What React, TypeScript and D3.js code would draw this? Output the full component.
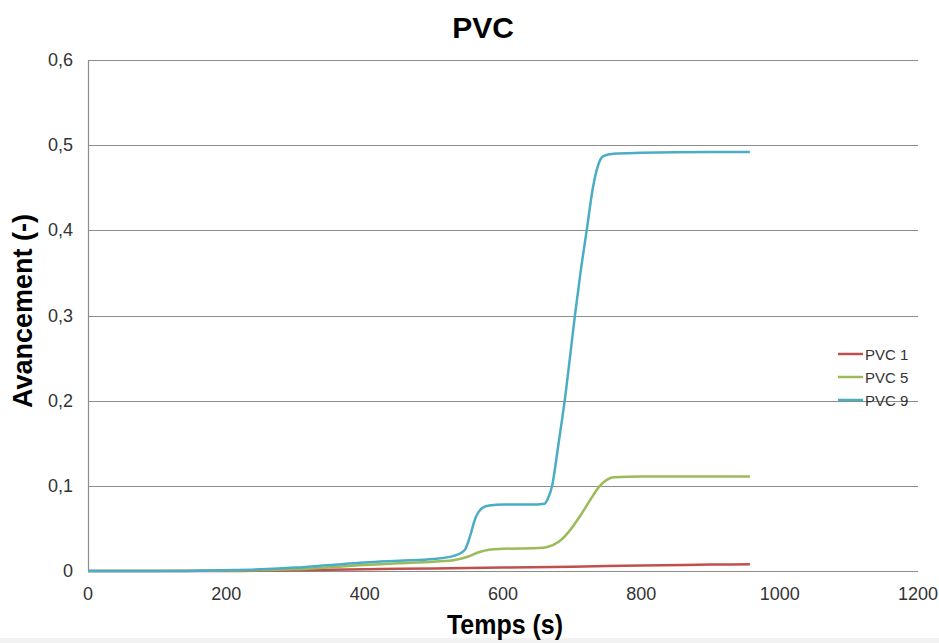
import React, { useEffect, useRef } from 'react';
import * as d3 from 'd3';

const xTicks = [0, 200, 400, 600, 800, 1000, 1200];
const yTicks = [0, 0.1, 0.2, 0.3, 0.4, 0.5, 0.6];

const pvc1Time = [0, 100, 200, 300, 400, 500, 600, 700, 800, 900, 957];
const pvc1Value = [0, 0, 0, 0.001, 0.002, 0.003, 0.004, 0.005, 0.0065, 0.0075, 0.008];

const pvc5Time = [0, 100, 200, 300, 400, 450, 500, 530, 550, 565, 580, 600, 650, 663, 680, 695, 711, 725, 740, 750, 760, 800, 900, 957];
const pvc5Value = [0, 0, 0.0005, 0.002, 0.007, 0.009, 0.011, 0.013, 0.017, 0.022, 0.025, 0.026, 0.027, 0.028, 0.034, 0.046, 0.064, 0.082, 0.1, 0.107, 0.11, 0.111, 0.111, 0.111];

const pvc9Time = [0, 100, 200, 250, 300, 350, 400, 450, 500, 530, 545, 552, 560, 570, 580, 600, 640, 660, 665, 671, 680, 690, 697, 704, 712, 721, 730, 737, 745, 760, 800, 900, 957];
const pvc9Value = [0, 0, 0.001, 0.002, 0.004, 0.007, 0.01, 0.012, 0.014, 0.018, 0.025, 0.04, 0.062, 0.074, 0.077, 0.078, 0.078, 0.079, 0.085, 0.1, 0.148, 0.205, 0.252, 0.3, 0.35, 0.4, 0.45, 0.475, 0.487, 0.49, 0.491, 0.492, 0.492];

const seriesNames = ['PVC 1', 'PVC 5', 'PVC 9'];
const seriesColors = ['#C0504D', '#9BBB59', '#4BACC6'];

const App = () => {
  const svgRef = useRef<SVGSVGElement>(null);

  useEffect(() => {
    const svg = d3.select(svgRef.current);
    svg.selectAll('*').remove();
    const font = '"Liberation Sans", Arial, sans-serif';

    const x = d3.scaleLinear().domain([0, 1200]).range([88, 918]);
    const y = d3.scaleLinear().domain([0, 0.6]).range([571, 60]);

    svg.append('rect').attr('width', 939).attr('height', 643).attr('fill', '#fff');
    svg.append('rect').attr('x', 0).attr('y', 638).attr('width', 939).attr('height', 5).attr('fill', '#f2f2f2');

    // grid
    svg.append('g')
      .selectAll('line')
      .data(yTicks)
      .enter()
      .append('line')
      .attr('x1', 88)
      .attr('x2', 918)
      .attr('y1', (d) => Math.round(y(d)) + 0.5)
      .attr('y2', (d) => Math.round(y(d)) + 0.5)
      .attr('stroke', '#8c8c8c')
      .attr('stroke-width', 1.2);

    svg.append('line')
      .attr('x1', 88.5).attr('x2', 88.5)
      .attr('y1', y(0.6)).attr('y2', y(0))
      .attr('stroke', '#8c8c8c').attr('stroke-width', 1.2);

    // tick labels
    svg.append('g')
      .selectAll('text')
      .data(yTicks)
      .enter()
      .append('text')
      .attr('x', 73)
      .attr('y', (d) => y(d) + 6)
      .attr('text-anchor', 'end')
      .attr('font-family', font)
      .attr('font-size', 18)
      .attr('fill', '#333')
      .text((d) => (d === 0 ? '0' : d3.format('.1f')(d).replace('.', ',')));

    svg.append('g')
      .selectAll('text')
      .data(xTicks)
      .enter()
      .append('text')
      .attr('x', (d) => x(d))
      .attr('y', 600)
      .attr('text-anchor', 'middle')
      .attr('font-family', font)
      .attr('font-size', 18)
      .attr('fill', '#333')
      .text((d) => d);

    // lines
    const data = [
      pvc1Time.map((t, i) => [t, pvc1Value[i]]),
      pvc5Time.map((t, i) => [t, pvc5Value[i]]),
      pvc9Time.map((t, i) => [t, pvc9Value[i]]),
    ];
    const line = d3.line<number[]>()
      .x((d) => x(d[0]))
      .y((d) => y(d[1]))
      .curve(d3.curveMonotoneX);

    svg.append('g')
      .selectAll('path')
      .data(data)
      .enter()
      .append('path')
      .attr('d', line)
      .attr('fill', 'none')
      .attr('stroke', (d, i) => seriesColors[i])
      .attr('stroke-width', 2.5);

    // legend
    const legend = svg.append('g')
      .selectAll('g')
      .data(seriesNames)
      .enter()
      .append('g')
      .attr('transform', (d, i) => `translate(838, ${354 + i * 23})`);
    legend.append('line')
      .attr('x1', 0).attr('x2', 25)
      .attr('stroke', (d, i) => seriesColors[i])
      .attr('stroke-width', 2.5);
    legend.append('text')
      .attr('x', 27)
      .attr('y', 5.5)
      .attr('font-family', font)
      .attr('font-size', 15)
      .attr('fill', '#333')
      .text((d) => d);

    // titles
    svg.append('text')
      .attr('x', 483).attr('y', 38)
      .attr('text-anchor', 'middle')
      .attr('font-family', font)
      .attr('font-weight', 'bold')
      .attr('font-size', 30)
      .text('PVC');

    svg.append('text')
      .attr('transform', 'translate(505, 634) scale(1, 1.12)')
      .attr('text-anchor', 'middle')
      .attr('font-family', font)
      .attr('font-weight', 'bold')
      .attr('font-size', 25)
      .text('Temps (s)');

    svg.append('text')
      .attr('transform', 'translate(32, 311) rotate(-90)')
      .attr('text-anchor', 'middle')
      .attr('font-family', font)
      .attr('font-weight', 'bold')
      .attr('font-size', 27)
      .text('Avancement (-)');
  }, []);

  return (
    <svg
      ref={svgRef}
      width={939}
      height={643}
      style={{ position: 'absolute', left: 0, top: 0, display: 'block' }}
    />
  );
};

export default App;
